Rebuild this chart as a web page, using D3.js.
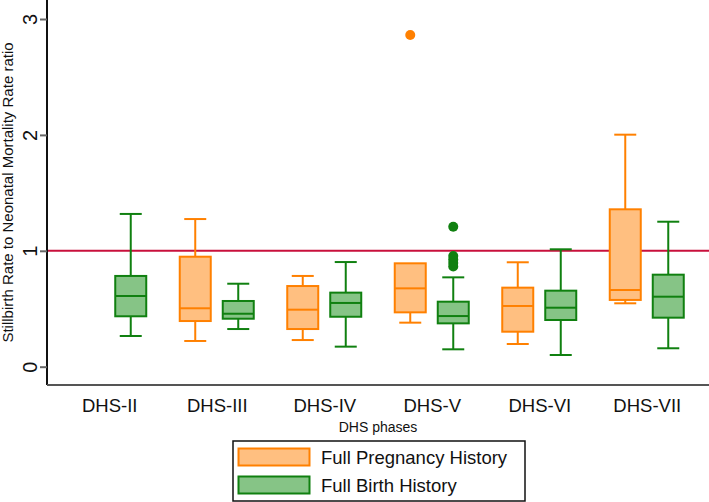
<!DOCTYPE html>
<html><head><meta charset="utf-8">
<script src="https://cdn.jsdelivr.net/npm/d3@7"></script>
<style>body{margin:0;background:#fff}svg{display:block;font-family:"Liberation Sans",Arial,sans-serif}</style>
</head><body>
<script>
const categories = ["DHS-II","DHS-III","DHS-IV","DHS-V","DHS-VI","DHS-VII"];
const seriesNames = ["Full Pregnancy History","Full Birth History"];
// Full Pregnancy History (null = no data)
const fphLow  = [null,0.222,0.230,0.380,0.196,0.547];
const fphQ1   = [null,0.394,0.325,0.469,0.302,0.576];
const fphMed  = [null,0.504,0.492,0.676,0.524,0.662];
const fphQ3   = [null,0.949,0.696,0.892,0.682,1.358];
const fphHigh = [null,1.274,0.783,0.892,0.901,2.002];
const fphOut  = [[],[],[],[2.862],[],[]];
// Full Birth History
const fbhLow  = [0.265,0.325,0.173,0.150,0.101,0.159];
const fbhQ1   = [0.435,0.414,0.431,0.374,0.403,0.423];
const fbhMed  = [0.610,0.457,0.550,0.437,0.509,0.604];
const fbhQ3   = [0.783,0.567,0.639,0.561,0.656,0.794];
const fbhHigh = [1.318,0.716,0.903,0.771,1.013,1.251];
const fbhOut  = [[],[],[],[1.208,0.955,0.925,0.895,0.865],[],[]];
const yTicks = [0,1,2,3];
const refLine = 1;

(function(){
const W=709,H=502;
const svg=d3.select("body").append("svg").attr("width",W).attr("height",H);
const pL=47,pR=709,pT=0,pB=385;
const y=d3.scaleLinear().domain([-0.1579,3.164]).range([pB,pT]);
const x=d3.scalePoint().domain(categories).range([pL,pR]).padding(0.579);
const sub=d3.scalePoint().domain(seriesNames).range([-21.5,21.5]);
const stroke={"Full Pregnancy History":"#ff8000","Full Birth History":"#108010"};
const fill={"Full Pregnancy History":"#ffbf80","Full Birth History":"#86c486"};

svg.append("line").attr("x1",pL).attr("x2",pR).attr("y1",y(refLine)).attr("y2",y(refLine))
  .attr("stroke","#c8103c").attr("stroke-width",2);

const series=[
 {name:seriesNames[0],low:fphLow,q1:fphQ1,med:fphMed,q3:fphQ3,high:fphHigh,out:fphOut},
 {name:seriesNames[1],low:fbhLow,q1:fbhQ1,med:fbhMed,q3:fbhQ3,high:fbhHigh,out:fbhOut}
];
const bw=31,cw=22;
series.forEach(s=>{
  categories.forEach((c,i)=>{
    if(s.med[i]==null) return;
    const cx=x(c)+sub(s.name);
    const g=svg.append("g").attr("stroke",stroke[s.name]).attr("stroke-width",2);
    g.append("line").attr("x1",cx).attr("x2",cx).attr("y1",y(s.high[i])).attr("y2",y(s.q3[i]));
    g.append("line").attr("x1",cx).attr("x2",cx).attr("y1",y(s.low[i])).attr("y2",y(s.q1[i]));
    if(s.high[i]>s.q3[i]+0.001) g.append("line").attr("x1",cx-cw/2).attr("x2",cx+cw/2).attr("y1",y(s.high[i])).attr("y2",y(s.high[i]));
    g.append("line").attr("x1",cx-cw/2).attr("x2",cx+cw/2).attr("y1",y(s.low[i])).attr("y2",y(s.low[i]));
    g.append("rect").attr("x",cx-bw/2).attr("width",bw).attr("y",y(s.q3[i])).attr("height",y(s.q1[i])-y(s.q3[i]))
      .attr("fill",fill[s.name]);
    g.append("line").attr("x1",cx-bw/2).attr("x2",cx+bw/2).attr("y1",y(s.med[i])).attr("y2",y(s.med[i]));
    s.out[i].forEach(v=>{
      svg.append("circle").attr("cx",cx).attr("cy",y(v)).attr("r",5).attr("fill",stroke[s.name]);
    });
  });
});

const ya=svg.append("g").attr("transform",`translate(${pL},0)`)
  .call(d3.axisLeft(y).tickValues(yTicks).tickSize(7).tickFormat(d3.format("d")));
ya.select(".domain").attr("stroke","#111").attr("stroke-width",2).attr("d",`M0,${pT}V${pB}`);
ya.selectAll(".tick line").attr("stroke","#666").attr("stroke-width",2);
ya.selectAll(".tick text").attr("font-size",20).attr("fill","#111").attr("font-family","Liberation Sans, Arial, sans-serif")
  .attr("transform","rotate(-90)").attr("x",0).attr("y",-10).attr("dy","0").attr("text-anchor","middle");

const xa=svg.append("g").attr("transform",`translate(0,${pB})`)
  .call(d3.axisBottom(x).tickSize(0).tickPadding(14));
xa.select(".domain").attr("stroke","#555").attr("stroke-width",2).attr("d",`M${pL},0H${pR}`);
xa.selectAll(".tick text").attr("font-size",18.5).attr("fill","#111").attr("font-family","Liberation Sans, Arial, sans-serif");

svg.append("text").attr("x",(x(categories[0])+x(categories[5]))/2).attr("y",432).attr("text-anchor","middle")
  .attr("font-size",14).attr("fill","#111").text("DHS phases");
svg.append("text").attr("transform",`translate(12.5,${(pT+pB)/2}) rotate(-90)`).attr("text-anchor","middle")
  .attr("font-size",15).attr("fill","#111").text("Stillbirth Rate to Neonatal Mortality Rate ratio");

const lg=svg.append("g");
lg.append("rect").attr("x",233).attr("y",441).attr("width",292).attr("height",60).attr("fill","#fff").attr("stroke","#111").attr("stroke-width",1.5);
seriesNames.forEach((n,i)=>{
  const yy=448.5+i*28;
  lg.append("rect").attr("x",238.5).attr("y",yy).attr("width",71).attr("height",17).attr("fill",fill[n]).attr("stroke",stroke[n]).attr("stroke-width",2);
  lg.append("text").attr("x",321).attr("y",yy+15).attr("font-size",18.5).attr("fill","#111").text(n);
});
})();
</script>
</body></html>
